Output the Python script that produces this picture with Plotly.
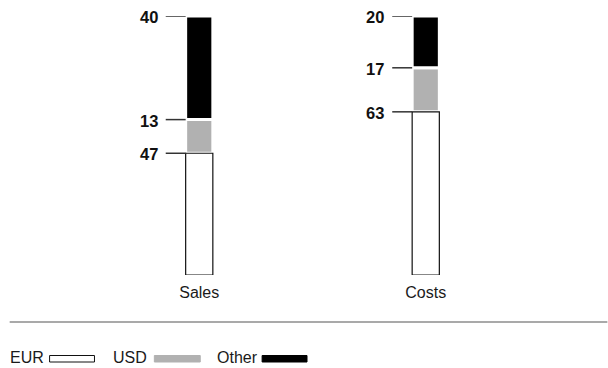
import plotly.graph_objects as go

categories = ["Sales", "Costs"]
series_names = ["EUR", "USD", "Other"]
eur = [47, 63]
usd = [13, 17]
other = [40, 20]
tick_labels = ["0", "20", "40", "60", "80", "100"]

W, H = 608, 368
ML, MR, MT, MB = 85.5, 68.5, 16, 93
PW = W - ML - MR
PH = H - MT - MB

def px_x(p):
    return (p - ML) / PW

def px_y(p):
    return (H - MB - p) / PH

FONT = "Liberation Sans, Arial, Helvetica, sans-serif"
GRAY = "#b1b1b1"
BW = 0.12  # bar width in category units

xs = list(range(len(categories)))
usd_base = [e for e in eur]
other_base = [e + u for e, u in zip(eur, usd)]

fig = go.Figure()
fig.add_trace(go.Bar(x=xs, y=usd, base=usd_base, name="USD", width=BW,
                     marker=dict(color=GRAY, line=dict(color="white", width=3)),
                     showlegend=False, hoverinfo="skip"))
fig.add_trace(go.Bar(x=xs, y=other, base=other_base, name="Other", width=BW,
                     marker=dict(color="black", line=dict(color="white", width=3)),
                     showlegend=False, hoverinfo="skip"))
fig.add_trace(go.Bar(x=xs, y=eur, base=[0] * len(eur), name="EUR", width=BW,
                     marker=dict(color="white", line=dict(color="#111", width=1.2)),
                     showlegend=False, hoverinfo="skip"))

shapes = []
annotations = []
lead = 0.088
for i in xs:
    left = i - BW / 2
    tops = [eur[i], eur[i] + usd[i], eur[i] + usd[i] + other[i]]
    vals = [eur[i], usd[i], other[i]]
    for t, v in zip(tops, vals):
        shapes.append(dict(type="line", xref="x", yref="y", x0=left - lead, x1=left,
                           y0=t, y1=t, line=dict(color="#333", width=1.5)))
        annotations.append(dict(x=left, y=t, xref="x", yref="y", text=f"<b>{v}</b>",
                                showarrow=False, xanchor="right", yanchor="middle",
                                xshift=-26, yshift=-1,
                                font=dict(size=16.5, color="#111", family=FONT)))

# separator rule
shapes.append(dict(type="line", xref="paper", yref="paper", x0=px_x(9), x1=px_x(608),
                   y0=px_y(322), y1=px_y(322), line=dict(color="#555", width=1.2)))

# custom legend
leg_y = 357.5
legend_items = [
    ("EUR", 9, 49, 94, "white", "#111"),
    ("USD", 113, 154, 200, GRAY, GRAY),
    ("Other", 217, 262, 307, "black", "black"),
]
for name, tx, sx0, sx1, fill, edge in legend_items:
    annotations.append(dict(x=px_x(tx), y=px_y(leg_y), xref="paper", yref="paper",
                            text=name, showarrow=False, xanchor="left", yanchor="middle",
                            xshift=-2,
                            font=dict(size=16, color="#1a1a1a", family=FONT)))
    shapes.append(dict(type="rect", xref="paper", yref="paper",
                       x0=px_x(sx0), x1=px_x(sx1), y0=px_y(362), y1=px_y(355.5),
                       fillcolor=fill, line=dict(color=edge, width=1)))

fig.update_layout(
    width=W, height=H,
    margin=dict(l=ML, r=MR, t=MT, b=MB, pad=0),
    paper_bgcolor="white", plot_bgcolor="white",
    barmode="overlay",
    shapes=shapes, annotations=annotations,
    showlegend=False,
    font=dict(family=FONT, color="#1a1a1a"),
    xaxis=dict(range=[-0.5, 1.5], tickmode="array", tickvals=xs, ticktext=categories,
               showgrid=False, zeroline=False, showline=False, ticks="",
               ticklabelstandoff=6,
               tickfont=dict(size=16, color="#1a1a1a", family=FONT), fixedrange=True),
    yaxis=dict(range=[0, 100], visible=False, showgrid=False, zeroline=False,
               tickvals=[int(t) for t in tick_labels], ticktext=tick_labels, fixedrange=True),
)

fig.write_html("out.html", config={"displayModeBar": False})
